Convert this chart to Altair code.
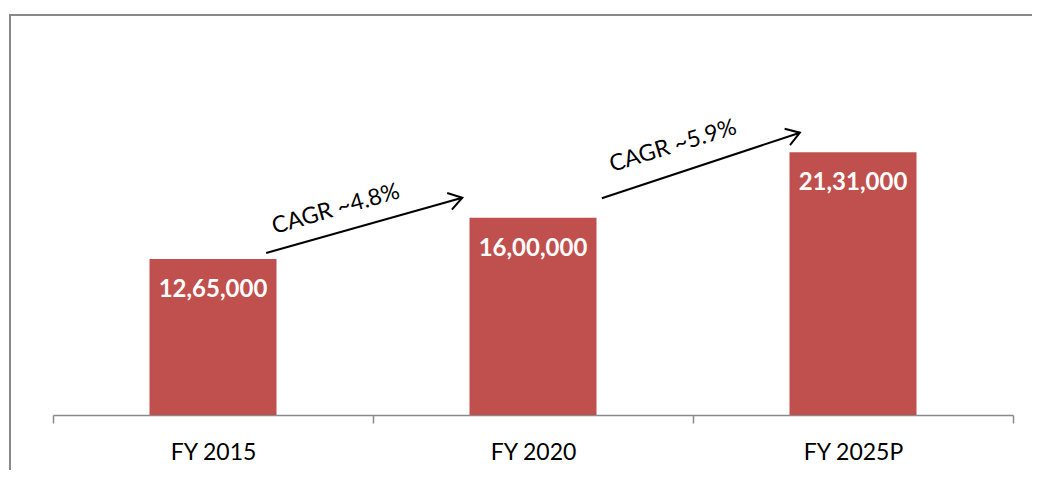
import altair as alt
import pandas as pd
import math

# ---- data ----
categories = ["FY 2015", "FY 2020", "FY 2025P"]
values = [1265000, 1600000, 2131000]
value_labels = ["12,65,000", "16,00,000", "21,31,000"]

# CAGR arrows in (category-position, value) units
arrow_x1 = [0.666, 1.715]
arrow_y1 = [1313500, 1757000]
arrow_x2 = [1.279, 2.334]
arrow_y2 = [1762000, 2289000]
cagr_text = ["CAGR ~4.8%", "CAGR ~5.9%"]
cagr_x = [0.884, 1.9375]
cagr_y = [1670000, 2181000]
cagr_angle = [344, 343]

W, H = 960, 370
YMAX = 3000000
FONT = "Lato"
RED = "#C0504D"
GRAY = "#898989"

bars_df = pd.DataFrame({"cat": categories, "val": values, "lab": value_labels})

# arrowhead rotation in pixel space
angs = []
for x1, y1, x2, y2 in zip(arrow_x1, arrow_y1, arrow_x2, arrow_y2):
    dx = (x2 - x1) * W / 3
    dy = -(y2 - y1) * H / YMAX
    angs.append(math.degrees(math.atan2(dy, dx)) % 360)

arrows_df = pd.DataFrame({"x1": arrow_x1, "y1": arrow_y1, "x2": arrow_x2,
                          "y2": arrow_y2, "ang": angs})
text_df = pd.DataFrame({"t": cagr_text, "x": cagr_x, "y": cagr_y, "a": cagr_angle})

yscale = alt.Scale(domain=[0, YMAX], nice=False, zero=True)
qx = alt.Scale(domain=[0, 3], nice=False, zero=False)

xband = alt.X("cat:N", sort=categories, title=None,
              scale=alt.Scale(paddingInner=0, paddingOuter=0),
              axis=alt.Axis(labelAngle=0, labelFont=FONT, labelFontSize=23,
                            labelColor="#000000", domainColor=GRAY, domainWidth=1.5,
                            tickColor=GRAY, tickWidth=1.5, tickSize=8,
                            tickBand="extent", labelPadding=18, grid=False))

bars = alt.Chart(bars_df).mark_bar(color=RED, width=127).encode(
    x=xband,
    y=alt.Y("val:Q", scale=yscale, axis=None),
)

bar_text = alt.Chart(bars_df).mark_text(
    color="white", font=FONT, fontWeight="bold", fontSize=24,
    baseline="middle", align="center", dy=31
).encode(
    x=alt.X("cat:N", sort=categories, scale=alt.Scale(paddingInner=0, paddingOuter=0), axis=None),
    y=alt.Y("val:Q", scale=yscale, axis=None),
    text="lab:N",
)

arrow_lines = alt.Chart(arrows_df).mark_rule(color="black", strokeWidth=2).encode(
    x=alt.X("x1:Q", scale=qx, axis=None),
    y=alt.Y("y1:Q", scale=yscale, axis=None),
    x2="x2:Q",
    y2="y2:Q",
)

arrow_heads = alt.Chart(arrows_df).mark_point(
    shape="M-1,-0.65L0,0L-1,0.65", filled=False, stroke="black",
    strokeWidth=2, opacity=1, size=700
).encode(
    x=alt.X("x2:Q", scale=qx, axis=None),
    y=alt.Y("y2:Q", scale=yscale, axis=None),
    angle=alt.Angle("ang:Q", scale=None),
)

cagr = alt.Chart(text_df).mark_text(
    font=FONT, fontSize=23, color="black", align="center", baseline="middle"
).encode(
    x=alt.X("x:Q", scale=qx, axis=None),
    y=alt.Y("y:Q", scale=yscale, axis=None),
    text="t:N",
    angle=alt.Angle("a:Q", scale=None),
)

frame_top = alt.Chart(bars_df).mark_rule(color=GRAY, strokeWidth=2).encode(
    x=alt.value(-43), x2=alt.value(W + 40), y=alt.value(-30)
)
frame_left = alt.Chart(bars_df).mark_rule(color=GRAY, strokeWidth=2).encode(
    x=alt.value(-43), y=alt.value(-31), y2=alt.value(H + 60)
)

annot = alt.layer(arrow_lines, arrow_heads, cagr)

chart = alt.layer(
    frame_top, frame_left, bars, bar_text, annot
).resolve_scale(x="independent").properties(
    width=W, height=H,
    autosize=alt.AutoSizeParams(type="none"),
    padding={"left": 45, "top": 37, "right": 19, "bottom": 55},
).configure(background="white").configure_view(strokeWidth=0, strokeOpacity=0)

chart.save("out.html", embed_options={"renderer": "svg", "actions": False})
